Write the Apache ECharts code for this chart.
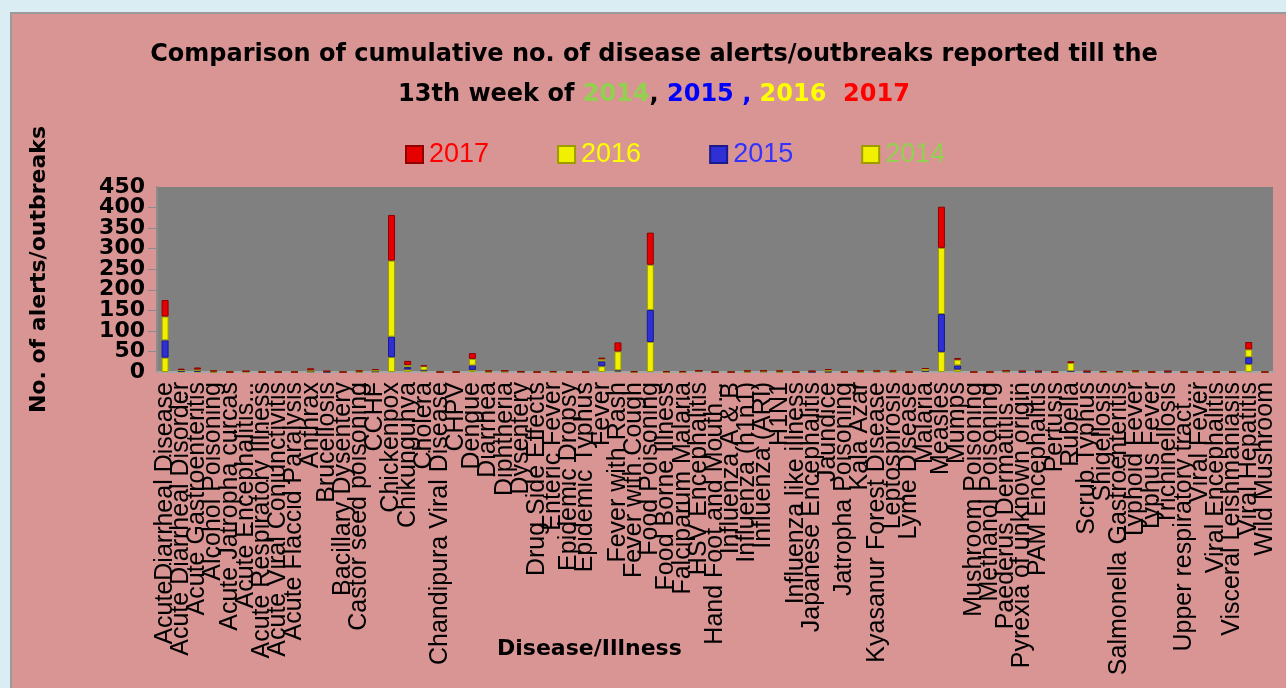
<!DOCTYPE html>
<html>
<head>
<meta charset="utf-8">
<title>Disease alerts/outbreaks till 13th week</title>
<script src="https://cdn.jsdelivr.net/npm/echarts@6/dist/echarts.min.js"></script>
<style>
    html, body { margin: 0; padding: 0; width: 100%; height: 100%; overflow: hidden; background: #daedf2; }
    .chart-frame { position: absolute; left: 10px; top: 12px; right: 0; bottom: 0; background: #d99594; border-left: 2px solid #9a9a9a; border-top: 2px solid #9a9a9a; }
    #tpl-chart { position: absolute; left: 0; top: 0; width: 1286px; height: 688px; }
</style>
</head>
<body>
<div class="chart-frame"></div>
<div id="tpl-chart"></div>
<script>
// categories, in the order they sit on the axis
var diseases = [
    'AcuteDiarrheal Disease', 'Acute Diarrheal Disorder', 'Acute Gastroenteritis', 'Alcohol Poisoning',
    'Acute Jatropha curcas', 'Acute Encephalitis...', 'Acute Respiratory Illness', 'Acute Viral Conjunctivitis',
    'Acute Flaccid Paralysis', 'Anthrax', 'Brucellosis', 'Bacillary Dysentery', 'Castor seed poisoning',
    'CCHF', 'Chickenpox', 'Chikungunya', 'Cholera', 'Chandipura Viral Disease', 'CHPV', 'Dengue',
    'Diarrhea', 'Diphtheria', 'Dysentery', 'Drug Side Effects', 'Enteric Fever', 'Epidemic Dropsy',
    'Epidemic Typhus', 'Fever', 'Fever with Rash', 'Fever with Cough', 'Food Poisoning',
    'Food Borne Illness', 'Falciparum Malaria', 'HSV Encephalitis', 'Hand Foot and Mouth...',
    'Influenza A & B', 'Influenza (h1n1)', 'Influenza (ARI)', 'H1N1', 'Influenza like illness',
    'Japanese Encephalitis', 'Jaundice', 'Jatropha Poisoning', 'Kala Azar', 'Kyasanur Forest Disease',
    'Leptospirosis', 'Lyme Disease', 'Malaria', 'Measles', 'Mumps', 'Mushroom Poisoning',
    'Methanol Poisoning', 'Paederus Dermatitis...', 'Pyrexia of unknown origin', 'PAM Encephalitis',
    'Pertusis', 'Rubella', 'Scrub Typhus', 'Shigellosis', 'Salmonella Gastroenteritis', 'Typhoid Fever',
    'Typhus Fever', 'Trichinellosis', 'Upper respiratory tract...', 'Viral Fever', 'Viral Encephalitis',
    'Visceral Leishmaniasis', 'Viral Hepatitis', 'Wild Mushroom'
];

// values
var y2014 = [35, 1, 1, 0, 0, 1, 0, 0, 0, 1, 0, 0, 0, 1, 36, 6, 3, 0, 0, 5,
             0, 1, 0, 0, 0, 0, 0, 14, 2, 0, 73, 0, 0, 2, 0, 0, 0, 1, 0, 0,
             0, 0, 0, 0, 1, 0, 0, 2, 49, 6, 0, 0, 1, 0, 0, 0, 2, 0, 0, 0,
             0, 0, 0, 0, 0, 0, 0, 19, 0];
var y2015 = [42, 1, 2, 2, 0, 0, 0, 0, 0, 0, 0, 0, 2, 0, 50, 6, 1, 0, 0, 11,
             2, 0, 0, 0, 0, 0, 0, 12, 2, 0, 78, 0, 0, 0, 0, 0, 2, 0, 2, 0,
             0, 1, 0, 2, 0, 2, 0, 0, 92, 10, 0, 0, 0, 0, 0, 0, 0, 0, 0, 0,
             2, 0, 0, 0, 0, 0, 0, 17, 0];
var y2016 = [58, 3, 3, 0, 0, 1, 0, 0, 0, 3, 2, 0, 0, 4, 185, 5, 10, 0, 0, 16,
             0, 2, 1, 0, 0, 0, 0, 5, 46, 0, 110, 0, 0, 1, 0, 0, 0, 2, 0, 0,
             2, 4, 0, 0, 1, 0, 0, 6, 161, 14, 0, 0, 2, 2, 2, 0, 20, 2, 0, 0,
             0, 0, 2, 0, 0, 0, 0, 19, 0];
var y2017 = [40, 3, 5, 1, 0, 0, 0, 0, 0, 5, 0, 0, 1, 2, 111, 10, 2, 0, 0, 14,
             1, 0, 0, 0, 2, 0, 0, 4, 22, 2, 78, 2, 2, 0, 0, 0, 1, 0, 1, 0,
             0, 2, 0, 1, 1, 1, 0, 1, 100, 4, 0, 0, 0, 0, 0, 0, 4, 0, 2, 2,
             1, 0, 0, 0, 0, 0, 0, 18, 0];

// y tick labels: the inner ones and the two ends
var yTicksInner = [50, 100, 150, 200, 250, 300, 350, 400];
var yTicksEnds = [0, 450];

var boldFont = 'DejaVu Sans';

var myChart = echarts.init(document.getElementById('tpl-chart'));

function barSeries(name, data, color, edge) {
    return {
        name: name,
        type: 'bar',
        stack: 'total',
        barWidth: 7,
        data: data,
        itemStyle: {
            color: color,
            borderColor: edge,
            borderWidth: 1
        }
    };
}

function titleStyle(color) {
    return { fontSize: 24, fontWeight: 'bold', color: color, lineHeight: 40, fontFamily: boldFont };
}

var yLabelStyle = {
    margin: 12,
    color: '#000',
    fontSize: 22,
    fontWeight: 'bold',
    fontFamily: boldFont
};

// the end labels sit on their own axis so they do not knock out 50 and 400
var option = {
    backgroundColor: 'transparent',
    animation: false,
    title: {
        left: 649,
        top: 30,
        textAlign: 'center',
        text: '{a|Comparison of cumulative no. of disease alerts/outbreaks reported till the}\n' +
              '{a|13th week of }{g|2014}{a|, }{b|2015 ,}{a| }{y|2016}{a|  }{r|2017}',
        textStyle: {
            fontFamily: boldFont,
            rich: {
                a: titleStyle('#000'),
                g: titleStyle('#92d050'),
                b: titleStyle('#0000ff'),
                y: titleStyle('#ffff00'),
                r: titleStyle('#ff0000')
            }
        }
    },
    legend: {
        left: 400,
        top: 136,
        itemWidth: 17,
        itemHeight: 17,
        itemGap: 68,
        icon: 'rect',
        textStyle: { fontSize: 27, fontFamily: 'Liberation Sans', padding: [0, 0, 0, 1] },
        data: [
            { name: '2017', textStyle: { color: '#ff0000' } },
            { name: '2016', textStyle: { color: '#ffff00' } },
            { name: '2015', textStyle: { color: '#3333ff' } },
            { name: '2014', textStyle: { color: '#92d050' } }
        ]
    },
    grid: {
        left: 157,
        right: 13,
        top: 187,
        bottom: 316,
        show: true,
        backgroundColor: '#808080',
        borderWidth: 0
    },
    xAxis: {
        type: 'category',
        data: diseases,
        axisLine: { lineStyle: { color: '#a6a6a6', width: 2 } },
        axisTick: { show: false },
        axisLabel: {
            interval: 0,
            rotate: 90,
            margin: 10,
            color: '#000',
            fontSize: 25,
            fontFamily: 'Liberation Sans'
        }
    },
    yAxis: [
        {
            type: 'value',
            min: 0,
            max: 450,
            interval: 50,
            name: 'No. of alerts/outbreaks',
            nameLocation: 'middle',
            nameGap: 107,
            nameTextStyle: {
                fontSize: 22,
                fontWeight: 'bold',
                color: '#000',
                fontFamily: boldFont,
                padding: [0, 0, 0, 20]
            },
            splitLine: { show: false },
            axisLine: { show: true, lineStyle: { color: '#8c8c8c', width: 2 } },
            axisTick: { show: true, length: 9, lineStyle: { color: '#8c8c8c' } },
            axisLabel: Object.assign({
                showMinLabel: false,
                showMaxLabel: false,
                formatter: function (v) { return yTicksInner.indexOf(v) >= 0 ? String(v) : ''; }
            }, yLabelStyle)
        },
        {
            type: 'value',
            position: 'left',
            min: 0,
            max: 450,
            interval: 50,
            splitLine: { show: false },
            axisLine: { show: false },
            axisTick: { show: false },
            axisLabel: Object.assign({
                showMinLabel: true,
                showMaxLabel: true,
                formatter: function (v) { return yTicksEnds.indexOf(v) >= 0 ? String(v) : ''; }
            }, yLabelStyle)
        }
    ],
    graphic: [
        {
            type: 'text',
            left: 497,
            top: 638,
            style: { text: 'Disease/Illness', font: 'bold 22px "DejaVu Sans"', fill: '#000' }
        }
    ],
    series: [
        barSeries('2014', y2014, '#f0f000', '#9c9c00'),
        barSeries('2015', y2015, '#2f2fd6', '#1a1a8a'),
        barSeries('2016', y2016, '#f0f000', '#9c9c00'),
        barSeries('2017', y2017, '#e60000', '#8f0000')
    ]
};

myChart.setOption(option);
</script>
</body>
</html>
